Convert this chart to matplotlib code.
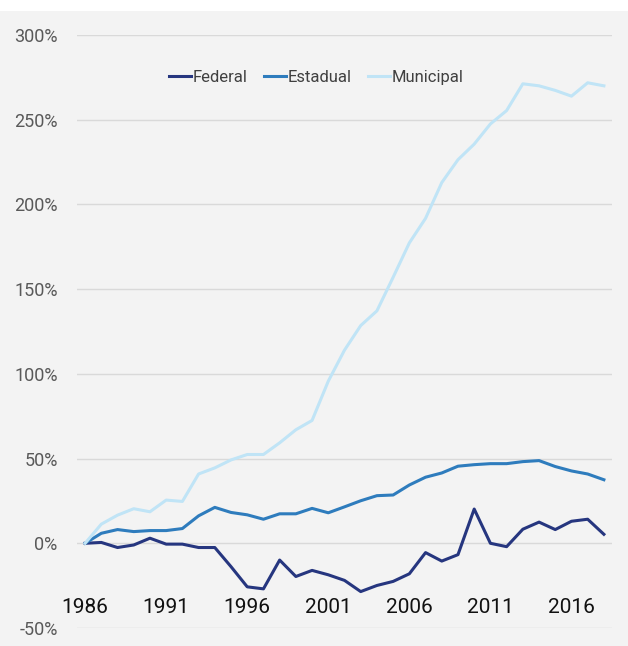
import matplotlib.pyplot as plt
from matplotlib.patches import Rectangle

# data (% change vs 1986)
years = list(range(1986, 2019))
federal = [0, 0.5, -2.5, -1, 3, -0.5, -0.5, -2.5, -2.5, -13.8, -25.7, -26.9, -9.9,
           -19.6, -16, -18.6, -21.9, -28.5, -24.9, -22.5, -18, -5.5, -10.5, -6.7,
           20.2, 0, -2, 8.3, 12.5, 8.1, 13, 14.2, 5.3]
estadual = [0, 5.9, 8.1, 6.9, 7.5, 7.5, 8.7, 16.2, 21.2, 18.2, 16.8, 14.2, 17.4,
            17.4, 20.6, 18, 21.5, 25.1, 28.1, 28.5, 34.4, 39, 41.5, 45.5, 46.4,
            47, 47, 48.2, 48.8, 45.3, 42.7, 40.9, 37.5]
municipal = [0, 11.3, 16.6, 20.4, 18.6, 25.5, 24.7, 40.9, 44.5, 49.2, 52.4, 52.4,
             59.3, 67, 72.5, 95.7, 114, 128.5, 137.2, 157, 177.3, 191.8, 212.9,
             226.4, 235.6, 247.5, 255.4, 271.2, 270, 267.3, 263.9, 271.8, 270]
xticks = [1986, 1991, 1996, 2001, 2006, 2011, 2016]
yticks = [-50, 0, 50, 100, 150, 200, 250, 300]

plt.rcParams['font.family'] = ['Roboto', 'DejaVu Sans']

fig = plt.figure(figsize=(6.28, 6.46), dpi=100)
fig.patches.append(Rectangle((0, 0), 1, (646 - 11) / 646, transform=fig.transFigure,
                             facecolor='#f3f3f3', edgecolor='none', zorder=-10))
ax = fig.add_axes([77 / 628, 18 / 646, 535 / 628, 593 / 646])
ax.set_facecolor('none')

ax.plot(years, federal, color='#26367f', lw=2.2, label='Federal')
ax.plot(years, estadual, color='#2e7cbd', lw=2.2, label='Estadual')
ax.plot(years, municipal, color='#c0e4f6', lw=2.2, label='Municipal')

ax.set_xlim(1985.5, 2018.5)
ax.set_ylim(-50, 300)
ax.set_yticks(yticks)
ax.set_yticklabels([f'{v}%' for v in yticks])
ax.yaxis.grid(True, color='#d9d9d9', lw=1)
ax.set_axisbelow(True)

for s in ['top', 'right', 'left']:
    ax.spines[s].set_visible(False)
ax.spines['bottom'].set_position(('data', -30))
ax.spines['bottom'].set_visible(False)
ax.set_xticks(xticks)
ax.tick_params(axis='x', length=0, pad=3, labelsize=15, labelcolor='#111111')
ax.tick_params(axis='y', length=0, pad=14, labelsize=13, labelcolor='#595959')

ax.legend(loc='center', bbox_to_anchor=(0.447, 0.928), ncol=3, frameon=False,
          fontsize=12, handlelength=1.3, handletextpad=0.1, columnspacing=1.0,
          labelcolor='#404040')

fig.savefig('out.png', dpi=100)
